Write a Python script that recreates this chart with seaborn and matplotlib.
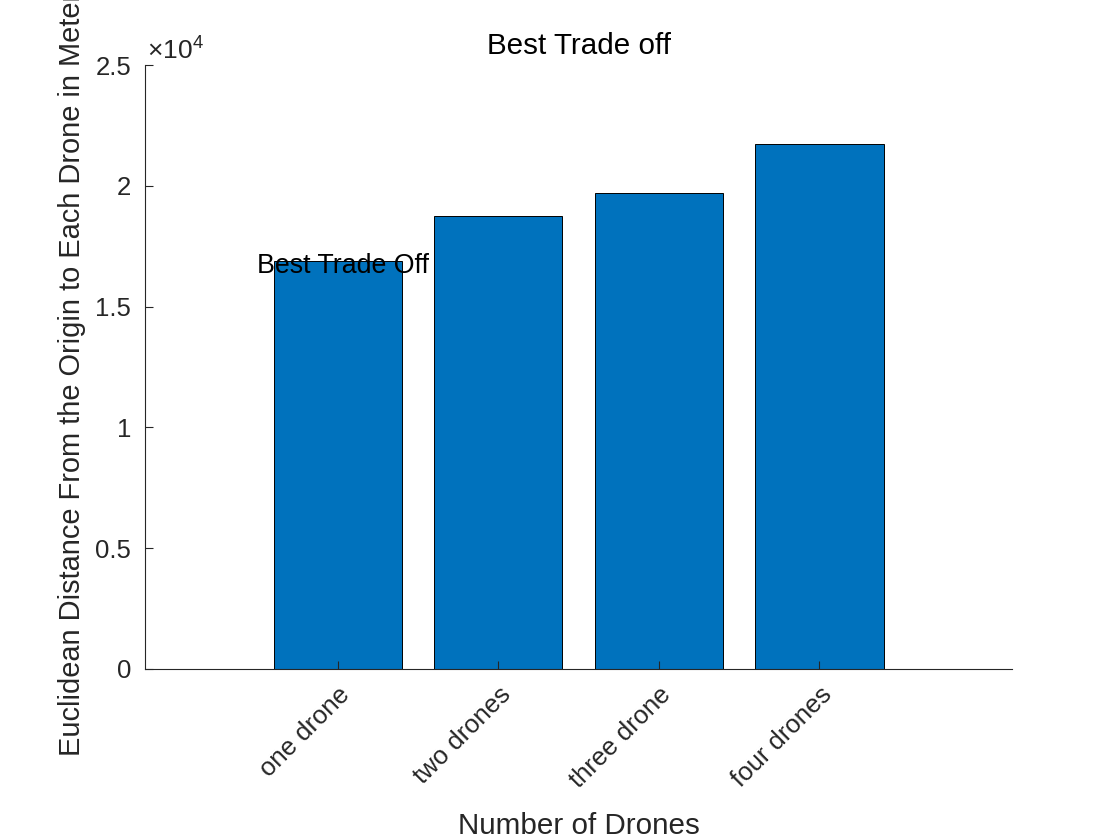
import matplotlib
matplotlib.use("Agg")
import matplotlib.pyplot as plt
import seaborn as sns
import pandas as pd
from matplotlib.ticker import FuncFormatter

# values
drones = ['one drone', 'two drones', 'three drone', 'four drones']
distance = [16875, 18738, 19690, 21717]
note_y = 16700

df = pd.DataFrame({'Drones': drones, 'Distance': distance})

sns.set_style("white")
plt.rcParams['font.family'] = ['Liberation Sans', 'DejaVu Sans']
plt.rcParams['mathtext.fontset'] = 'custom'
plt.rcParams['mathtext.rm'] = 'Liberation Sans'

fig = plt.figure(figsize=(11.16, 8.4), dpi=100)
ax = fig.add_axes([0.13, 0.2036, 0.7768, 0.719])

sns.barplot(data=df, x='Drones', y='Distance', color='#0072BD', saturation=1,
            edgecolor='black', linewidth=0.7, width=0.8, ax=ax)
ax.set_axisbelow(False)

ax.set_xlim(-1.2, 4.2)
ax.set_ylim(0, 25000)
ax.set_yticks([0, 5000, 10000, 15000, 20000, 25000])
ax.yaxis.set_major_formatter(FuncFormatter(lambda v, p: '%g' % (v / 1e4)))
ax.text(0.002, 1.003, r'$\times10^{4}$', transform=ax.transAxes, fontsize=19,
        color='#262626', ha='left', va='bottom')

for s in ['top', 'right']:
    ax.spines[s].set_visible(False)
for s in ['left', 'bottom']:
    ax.spines[s].set_color('#262626')
    ax.spines[s].set_linewidth(0.8)

ax.tick_params(axis='both', direction='in', length=6, width=0.8, colors='#262626',
               labelsize=18.5, pad=10, bottom=True, left=True)
plt.setp(ax.get_xticklabels(), rotation=45, ha='right', va='top', rotation_mode='anchor')

ax.set_xlabel('Number of Drones', fontsize=21.3, color='#262626', labelpad=14)
ax.set_ylabel('Euclidean Distance From the Origin to Each Drone in Meters', fontsize=20.9,
              color='#262626', labelpad=7)
ax.set_title('Best Trade off', fontsize=21.3, color='black', pad=8)

ax.text(-0.5, note_y, 'Best Trade Off', fontsize=19.3, color='black', ha='left', va='center')

fig.savefig('out.png', dpi=100)
